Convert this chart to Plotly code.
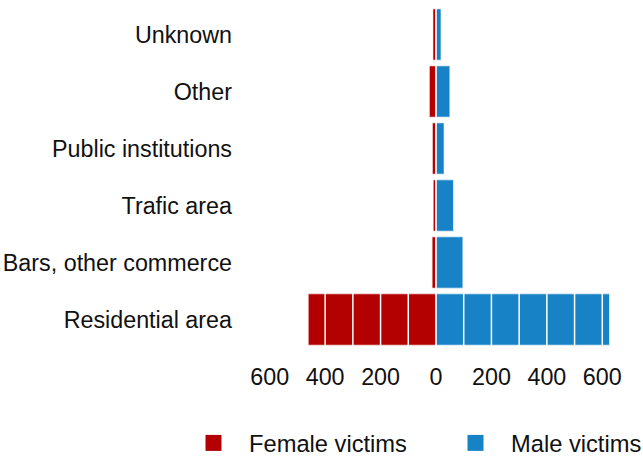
import plotly.graph_objects as go

# categories bottom -> top
places = ["Residential area", "Bars, other commerce", "Trafic area",
          "Public institutions", "Other", "Unknown"]
female_victims = [461, 14, 10, 13, 24, 11]
male_victims = [626, 97, 63, 29, 50, 18]

tick_vals = [-600, -400, -200, 0, 200, 400, 600]
tick_text = ["600", "400", "200", "0", "200", "400", "600"]

RED = "#b30000"
BLUE = "#1783c6"
FONT = "Liberation Sans, Arial, sans-serif"

fig = go.Figure()

fig.add_trace(go.Bar(
    y=places,
    x=[-v for v in female_victims],
    orientation="h",
    name="Female victims",
    marker=dict(color=RED, line=dict(color="rgba(255,255,255,0.6)", width=1)),
    showlegend=False,
))
fig.add_trace(go.Bar(
    y=places,
    x=male_victims,
    orientation="h",
    name="Male victims",
    marker=dict(color=BLUE, line=dict(color="rgba(255,255,255,0.6)", width=1)),
    showlegend=False,
))

# legend entries with bigger square symbols, one legend each
for name, color, leg in [("Female victims", RED, "legend"),
                         ("Male victims", BLUE, "legend2")]:
    fig.add_trace(go.Scatter(
        x=[None], y=[None], mode="markers", name=name, legend=leg,
        marker=dict(symbol="square", size=17, color=color),
    ))

# white gridlines drawn over the bars
for v in range(-600, 701, 100):
    fig.add_shape(type="line", x0=v, x1=v, y0=0, y1=1, yref="paper",
                  line=dict(color="white", width=1.5), layer="above")

legend_style = dict(
    orientation="h",
    xref="container", yref="container",
    xanchor="left",
    y=1 - 443 / 456, yanchor="middle",
    font=dict(size=23.7),
    itemwidth=61,
)

fig.update_layout(
    barmode="relative",
    bargap=0.1,
    width=643,
    height=456,
    plot_bgcolor="white",
    paper_bgcolor="white",
    font=dict(family=FONT, size=23.3, color="#111111"),
    margin=dict(l=242, r=13, t=6, b=108, autoexpand=False),
    xaxis=dict(
        range=[-700, 700],
        tickvals=tick_vals,
        ticktext=tick_text,
        showgrid=False,
        zeroline=False,
        ticklabelstandoff=13,
        automargin=False,
    ),
    yaxis=dict(
        showgrid=False,
        ticklabelstandoff=9,
        automargin=False,
    ),
    legend=dict(legend_style, x=178 / 643),
    legend2=dict(legend_style, x=440 / 643),
)

fig.write_html("out.html", config={"displayModeBar": False},
               post_script="document.body.style.margin='0';")
